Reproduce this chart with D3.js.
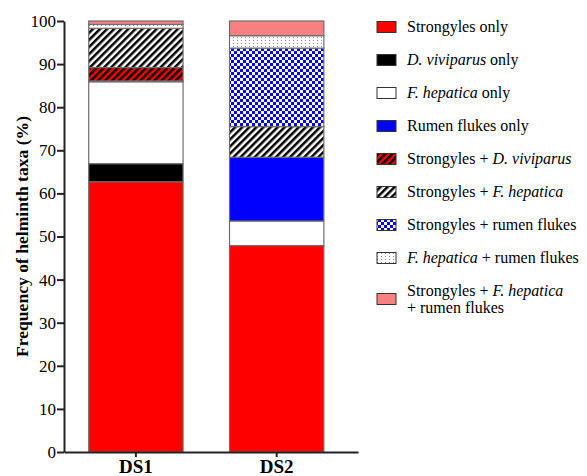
<!DOCTYPE html>
<html>
<head>
<meta charset="utf-8">
<script src="https://cdn.jsdelivr.net/npm/d3@7"></script>
<style>
  body { margin: 0; background: #fff; }
  svg { display: block; }
  text { font-family: 'Liberation Serif', 'Times New Roman', Times, serif; }
</style>
</head>
<body>
<div id="chart"></div>
<script>
// data (% of samples, DS1 / DS2)
const DATASETS = ['DS1', 'DS2'];
const KEYS = ['str', 'dv', 'fh', 'rf', 'strDv', 'strFh', 'strRf', 'fhRf', 'strFhRf'];
const strongylesOnly = [62.7, 47.9];
const viviparusOnly = [4.2, 0];
const hepaticaOnly = [19.0, 5.7];
const rumenOnly = [0.2, 14.8];
const strViviparus = [3.1, 0];
const strHepatica = [9.1, 7.1];
const strRumen = [0, 18.2];
const hepaticaRumen = [0.9, 2.9];
const strHepaticaRumen = [0.8, 3.4];
const Y_TICKS = [0, 10, 20, 30, 40, 50, 60, 70, 80, 90, 100];

// legend labels: [text, italic] pieces, one array per line
const LEGEND_LABELS = [
    [[['Strongyles only', false]]],
    [[['D. viviparus', true], [' only', false]]],
    [[['F. hepatica', true], [' only', false]]],
    [[['Rumen flukes only', false]]],
    [[['Strongyles + ', false], ['D. viviparus', true]]],
    [[['Strongyles + ', false], ['F. hepatica', true]]],
    [[['Strongyles + rumen flukes', false]]],
    [[['F. hepatica', true], [' + rumen flukes', false]]],
    [[['Strongyles + ', false], ['F. hepatica', true]], [['+ rumen flukes', false]]]
];

const FRAME_WIDTH = 587;
const FRAME_HEIGHT = 476;
const MARGINS = {left: 64, right: 229, top: 21, bottom: 24};

const svg = d3.select('#chart')
    .append('svg')
        .attr('width', FRAME_WIDTH)
        .attr('height', FRAME_HEIGHT);

// build the table for d3.stack
const cols = [strongylesOnly, viviparusOnly, hepaticaOnly, rumenOnly, strViviparus,
              strHepatica, strRumen, hepaticaRumen, strHepaticaRumen];
const table = DATASETS.map((ds, i) => {
    const row = {ds: ds};
    KEYS.forEach((k, j) => { row[k] = cols[j][i]; });
    return row;
});
const series = d3.stack().keys(KEYS)(table);

// patterns
const defs = svg.append('defs');

function stripes(id, bg) {
    const p = defs.append('pattern')
        .attr('id', id)
        .attr('patternUnits', 'userSpaceOnUse')
        .attr('width', 5).attr('height', 5)
        .attr('patternTransform', 'rotate(45)');
    p.append('rect').attr('width', 5).attr('height', 5).attr('fill', bg);
    p.append('rect').attr('width', 2.5).attr('height', 5).attr('fill', '#000');
}
stripes('hatchRed', '#ff0000');
stripes('hatchWhite', '#ffffff');

const checker = defs.append('pattern')
    .attr('id', 'checker')
    .attr('patternUnits', 'userSpaceOnUse')
    .attr('width', 6).attr('height', 6);
checker.append('rect').attr('width', 6).attr('height', 6).attr('fill', '#0000ff');
checker.append('rect').attr('width', 3).attr('height', 3).attr('fill', '#fff');
checker.append('rect').attr('x', 3).attr('y', 3).attr('width', 3).attr('height', 3).attr('fill', '#fff');

const dots = defs.append('pattern')
    .attr('id', 'dots')
    .attr('patternUnits', 'userSpaceOnUse')
    .attr('width', 4).attr('height', 3);
dots.append('rect').attr('width', 4).attr('height', 3).attr('fill', '#fff');
dots.append('rect').attr('x', 1).attr('y', 1).attr('width', 1).attr('height', 1).attr('fill', '#888');

const FILL = d3.scaleOrdinal()
    .domain(KEYS)
    .range(['#ff0000', '#000000', '#ffffff', '#0000ff', 'url(#hatchRed)',
            'url(#hatchWhite)', 'url(#checker)', 'url(#dots)', '#f88080']);

// scales
const X_SCALE = d3.scaleBand()
    .domain(DATASETS)
    .range([MARGINS.left, FRAME_WIDTH - MARGINS.right])
    .paddingInner(0.33)
    .paddingOuter(0.209)
    .align(0.42);

const Y_SCALE = d3.scaleLinear()
    .domain([0, 100])
    .range([FRAME_HEIGHT - MARGINS.bottom, MARGINS.top]);

// bars
svg.append('g')
    .selectAll('g')
    .data(series)
    .enter()
    .append('g')
        .attr('fill', d => FILL(d.key))
    .selectAll('rect')
    .data(d => d)
    .enter()
    .append('rect')
        .attr('x', d => X_SCALE(d.data.ds))
        .attr('width', X_SCALE.bandwidth())
        .attr('y', d => Y_SCALE(d[1]))
        .attr('height', d => Y_SCALE(d[0]) - Y_SCALE(d[1]))
        .attr('stroke', '#6e6e6e')
        .attr('stroke-width', d => (d[1] - d[0]) > 0 ? 1.2 : 0);

// y axis
const yAxis = svg.append('g')
    .attr('transform', 'translate(' + MARGINS.left + ',0)')
    .call(d3.axisLeft(Y_SCALE).tickValues(Y_TICKS).tickSize(7).tickPadding(1).tickSizeOuter(0))
    .attr('font-size', '17px')
    .attr('font-family', null);
yAxis.select('.domain').attr('stroke', '#222').attr('stroke-width', 2);
yAxis.selectAll('.tick line').attr('stroke', '#222').attr('stroke-width', 2);
yAxis.selectAll('.tick text').attr('fill', '#000');

// x axis
const xAxis = svg.append('g')
    .attr('transform', 'translate(0,' + (FRAME_HEIGHT - MARGINS.bottom) + ')')
    .call(d3.axisBottom(X_SCALE).tickSize(5).tickPadding(3).tickSizeOuter(0))
    .attr('font-size', '19px')
    .attr('font-family', null)
    .attr('font-weight', 'bold');
xAxis.select('.domain').attr('stroke', '#222').attr('stroke-width', 2);
xAxis.selectAll('.tick line').attr('stroke', '#222').attr('stroke-width', 2);
xAxis.selectAll('.tick text').attr('fill', '#000');

// y axis title
svg.append('text')
    .attr('transform', 'translate(28,' + ((Y_SCALE(0) + Y_SCALE(100)) / 2) + ') rotate(-90)')
    .attr('text-anchor', 'middle')
    .attr('font-size', '17.6px')
    .attr('font-weight', 'bold')
    .text('Frequency of helminth taxa (%)');

// legend
const ROW_Y = [27, 60, 93, 126, 159, 192, 225, 258, 299];
const legend = svg.append('g');
KEYS.forEach((k, i) => {
    const lines = LEGEND_LABELS[i];
    const cy = ROW_Y[i];
    legend.append('rect')
        .attr('x', 377).attr('y', cy - 5.5)
        .attr('width', 19).attr('height', 11)
        .attr('fill', FILL(k))
        .attr('stroke', '#333')
        .attr('stroke-width', 1);
    lines.forEach((parts, li) => {
        const t = legend.append('text')
            .attr('x', 407)
            .attr('y', cy + 5 + (li - (lines.length - 1) / 2) * 17)
            .attr('font-size', '16px');
        parts.forEach(p => {
            t.append('tspan')
                .attr('font-style', p[1] ? 'italic' : 'normal')
                .text(p[0]);
        });
    });
});
</script>
</body>
</html>
